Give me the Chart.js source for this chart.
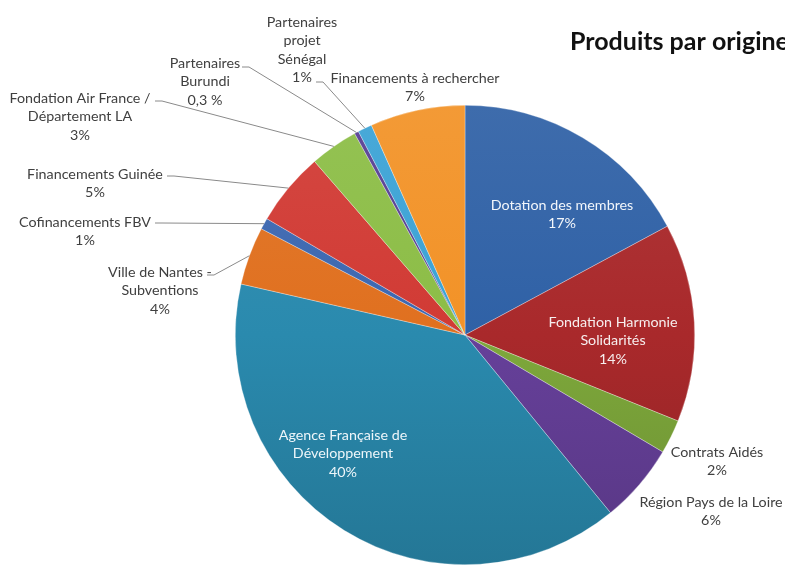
<!DOCTYPE html>
<html><head><meta charset="utf-8">
<script src="https://cdn.jsdelivr.net/npm/chart.js@4.4.1/dist/chart.umd.min.js"></script>
<style>html,body{margin:0;padding:0;background:#fff;overflow:hidden}</style>
</head><body>
<div style="width:785px;height:565px"><canvas id="c" width="785" height="565"></canvas></div>
<script>
const chartTitle = "Produits par origine";
const categories = [
  ["Dotation des membres"],
  ["Fondation Harmonie", "Solidarités"],
  ["Contrats Aidés"],
  ["Région Pays de la Loire"],
  ["Agence Française de", "Développement"],
  ["Ville de Nantes -", "Subventions"],
  ["Cofinancements FBV"],
  ["Financements Guinée"],
  ["Fondation Air France /", "Département LA"],
  ["Partenaires", "Burundi"],
  ["Partenaires", "projet", "Sénégal"],
  ["Financements à rechercher"]
];
const values = [17.2, 14.0, 2.4, 5.6, 39.6, 4.1, 0.8, 5.2, 3.4, 0.3, 1.0, 6.7];
const pctLabels = ["17%", "14%", "2%", "6%", "40%", "4%", "1%", "5%", "3%", "0,3 %", "1%", "7%"];
const colors = ["#2F61A6", "#A9292B", "#7EA83B", "#66409A", "#2A8AAE", "#E0701F",
                "#3C67B0", "#D13A34", "#8CBD46", "#563E92", "#3BA2D5", "#F29227"];

// label layout (text centre of first line, colour, leader start)
const labelLayout = [
  {x: 562, y: 205, c: "#f2f6fb"},
  {x: 613, y: 322, c: "#f7eeee"},
  {x: 717, y: 452, c: "#404040"},
  {x: 711, y: 502, c: "#404040"},
  {x: 343, y: 435, c: "#eef6fa"},
  {x: 160, y: 272, c: "#404040", lead: [207, 275]},
  {x: 85,  y: 222, c: "#404040", lead: [155, 223]},
  {x: 95,  y: 174, c: "#404040", lead: [167, 176]},
  {x: 80,  y: 98,  c: "#404040", lead: [155, 101]},
  {x: 205, y: 63,  c: "#404040", lead: [242, 67]},
  {x: 302, y: 22,  c: "#404040", lead: [316, 82]},
  {x: 415, y: 78,  c: "#404040"}
];
const FONT = "Lato, 'Open Sans', sans-serif";
const LH = 18.5;

function shade(hex, f) {
  const n = parseInt(hex.slice(1), 16);
  let r = (n >> 16) & 255, g = (n >> 8) & 255, b = n & 255;
  const m = v => Math.max(0, Math.min(255, Math.round(f >= 0 ? v + (255 - v) * f : v * (1 + f))));
  return "rgb(" + m(r) + "," + m(g) + "," + m(b) + ")";
}

const labelPlugin = {
  id: "labels",
  afterDraw(chart) {
    const ctx = chart.ctx;
    const meta = chart.getDatasetMeta(0);
    ctx.save();
    ctx.font = "bold 25px " + FONT;
    ctx.fillStyle = "#111";
    ctx.textAlign = "left";
    ctx.textBaseline = "middle";
    ctx.fillText(chartTitle, 570, 42);
    ctx.strokeStyle = "#8a8a8a";
    ctx.lineWidth = 1;
    meta.data.forEach((arc, i) => {
      const L = labelLayout[i];
      if (!L.lead) return;
      const mid = (arc.startAngle + arc.endAngle) / 2;
      const ex = arc.x + Math.cos(mid) * arc.outerRadius;
      const ey = arc.y + Math.sin(mid) * arc.outerRadius;
      ctx.beginPath();
      ctx.moveTo(L.lead[0], L.lead[1]);
      ctx.lineTo(L.lead[0] + 7, L.lead[1]);
      ctx.lineTo(ex, ey);
      ctx.stroke();
    });
    ctx.font = "14.3px " + FONT;
    ctx.textAlign = "center";
    meta.data.forEach((arc, i) => {
      const L = labelLayout[i];
      const lines = categories[i].concat([pctLabels[i]]);
      ctx.fillStyle = L.c;
      lines.forEach((t, k) => ctx.fillText(t, L.x, L.y + k * LH));
    });
    ctx.restore();
  }
};

new Chart(document.getElementById("c"), {
  type: "pie",
  data: {
    labels: categories,
    datasets: [{
      data: values,
      backgroundColor: (c) => {
        const area = c.chart.chartArea;
        const base = colors[c.dataIndex];
        if (!area) return base;
        const g = c.chart.ctx.createLinearGradient(0, area.top, 0, area.bottom);
        g.addColorStop(0, shade(base, 0.07));
        g.addColorStop(0.5, base);
        g.addColorStop(1, shade(base, -0.14));
        return g;
      },
      borderColor: "rgba(255,255,255,0.5)",
      borderWidth: 0.6
    }]
  },
  options: {
    responsive: false,
    devicePixelRatio: 1,
    animation: false,
    layout: {padding: {left: 235, right: 90, top: 105, bottom: 0}},
    plugins: {legend: {display: false}, tooltip: {enabled: false}, title: {display: false}}
  },
  plugins: [labelPlugin]
});
</script>
</body></html>
